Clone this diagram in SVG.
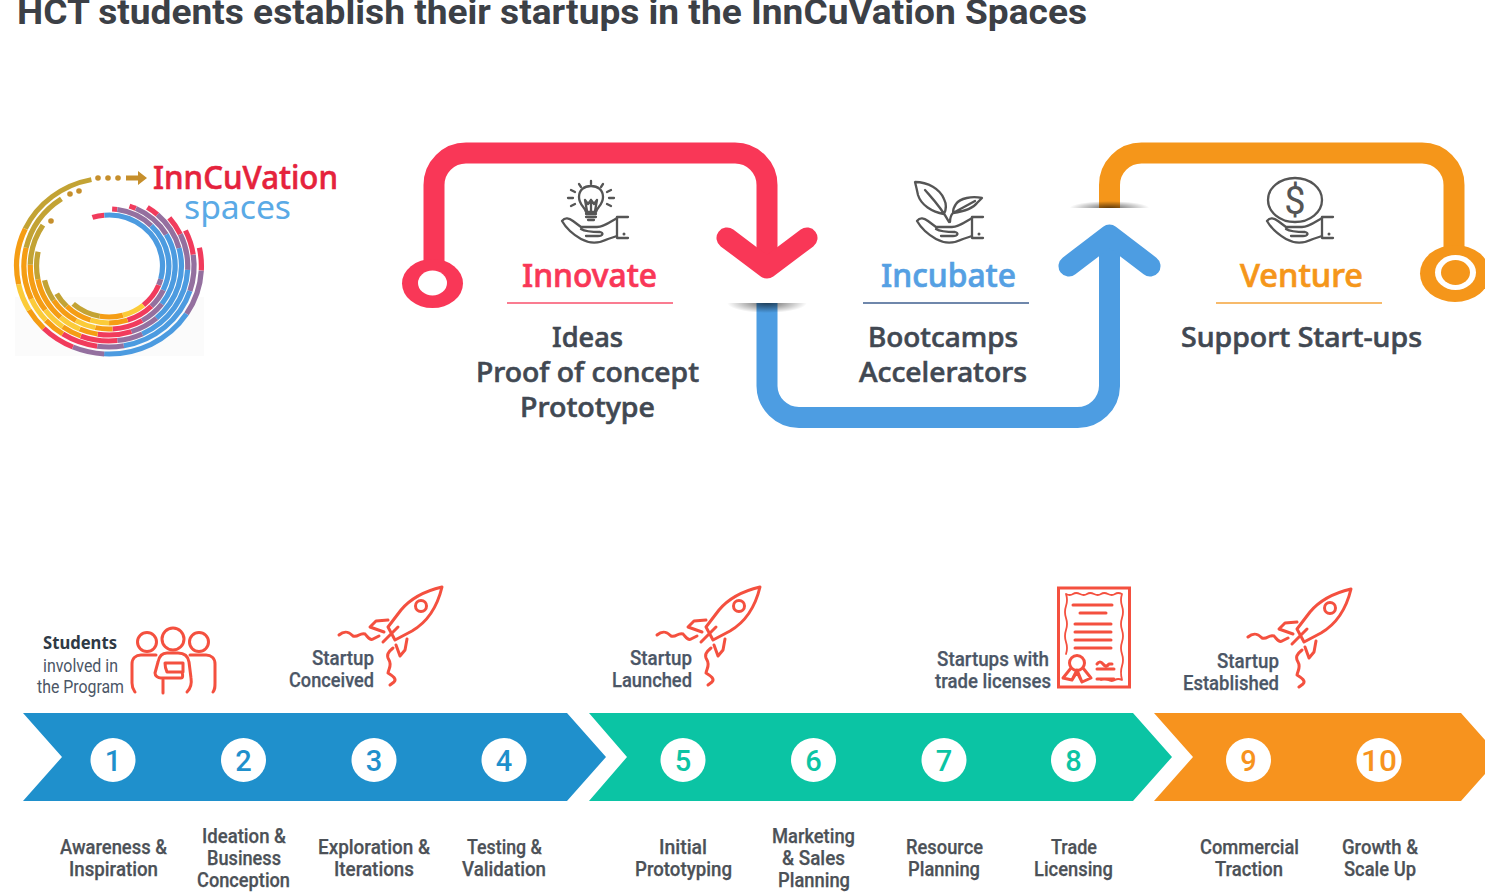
<svg xmlns="http://www.w3.org/2000/svg" xmlns:xlink="http://www.w3.org/1999/xlink" width="1485" height="893" viewBox="0 0 1485 893">
<style>
text{font-family:Roboto,"Liberation Sans",sans-serif}
.h{font-family:"Noto Sans","Liberation Sans",sans-serif;font-size:33px;font-weight:500;stroke-width:.7}
.d{font-family:"Noto Sans","Liberation Sans",sans-serif;font-size:27px;font-weight:500;fill:#414852;stroke:#414852;stroke-width:.6}
.l{font-size:21px;font-weight:500;fill:#4c5157;stroke:#4c5157;stroke-width:.25}
.u{font-size:21px;font-weight:500;fill:#4b5666;stroke:#4b5666;stroke-width:.25}
.n{font-size:29px;font-weight:500;text-anchor:middle}
.ic{fill:none;stroke:#555;stroke-width:2.300;stroke-linecap:round;stroke-linejoin:round}
.rd{fill:none;stroke:#f4503f;stroke-width:3;stroke-linecap:round;stroke-linejoin:round}
.pipe{fill:none;stroke-width:21;stroke-linecap:butt;stroke-linejoin:round}
.head{fill:none;stroke-width:21;stroke-linecap:round;stroke-linejoin:round}
.ring circle{fill:none;stroke-width:5}
.b{stroke:#4c9be0}.p{stroke:#94709f}.r{stroke:#f13b5c}.o{stroke:#f59d14}.y{stroke:#fbcb39}.g{stroke:#c3a334}
</style>
<defs>
<radialGradient id="shDown" gradientUnits="userSpaceOnUse" cx="0" cy="0" r="1" gradientTransform="translate(767 303) scale(40 10)"><stop offset="0" stop-color="#000" stop-opacity=".6"/><stop offset="1" stop-color="#000" stop-opacity="0"/></radialGradient>
<radialGradient id="shUp" gradientUnits="userSpaceOnUse" cx="0" cy="0" r="1" gradientTransform="translate(1109.500 208) scale(40 7)"><stop offset="0" stop-color="#000" stop-opacity=".6"/><stop offset="1" stop-color="#000" stop-opacity="0"/></radialGradient>
<g id="hand">
<path class="ic" d="M562 221C565 217 569 218 573 221L581 227H597C604 227 610 222 617 218M562 221C566 228 574 235 581 239C590 244 600 243 608 239L617 236M581 229C586 232 594 232 600 232C604 233 603 236 598 236H586"/>
<path class="ic" d="M628 217H617V238H628"/><circle cx="624" cy="234" r="1.500" fill="#555"/>
</g>
<g id="rocket">
<path class="rd" d="M442 587C425 591 411 598 401 610L388 627L395 640L412 631C424 624 436 612 442 587Z"/>
<circle class="rd" cx="421" cy="606" r="5.500"/>
<path class="rd" d="M388 620L376 621L370 627L384 632M407 639L405 650L400 656L396 645M383 642L398 627"/>
<path class="rd" d="M339 635C345 630 349 632 353 636C358 638 360 632 365 634C368 637 370 641 373 639L379 636M393 648C388 652 386 655 389 660C392 665 389 668 388 673C393 676 397 679 394 682L390 685"/>
</g>
</defs>
<rect width="1485" height="893" fill="#fff"/>
<text id="title" x="17" y="24" font-size="35" font-weight="700" fill="#3c4046" textLength="1070" lengthAdjust="spacingAndGlyphs">HCT students establish their startups in the InnCuVation Spaces</text>

<g id="logo">
<rect x="15" y="297" width="189" height="59" fill="#fbfbfb"/>
<g class="ring" transform="translate(109 266) scale(1.05 1)">
<circle r="88" pathLength="360" class="r" stroke-dasharray="15 999" transform="rotate(-12)"/><circle r="88" pathLength="360" class="p" stroke-dasharray="30 999" transform="rotate(3)"/><circle r="88" pathLength="360" class="b" stroke-dasharray="60 999" transform="rotate(33)"/><circle r="88" pathLength="360" class="p" stroke-dasharray="20 999" transform="rotate(93)"/><circle r="88" pathLength="360" class="r" stroke-dasharray="22 999" transform="rotate(113)"/><circle r="88" pathLength="360" class="o" stroke-dasharray="15 999" transform="rotate(135)"/><circle r="88" pathLength="360" class="y" stroke-dasharray="18 999" transform="rotate(150)"/><circle r="88" pathLength="360" class="o" stroke-dasharray="37 999" transform="rotate(168)"/><circle r="88" pathLength="360" class="g" stroke-dasharray="54 999" transform="rotate(205)"/>
<circle r="81" pathLength="360" class="r" stroke-dasharray="18 999" transform="rotate(-26)"/><circle r="81" pathLength="360" class="p" stroke-dasharray="26 999" transform="rotate(-8)"/><circle r="81" pathLength="360" class="b" stroke-dasharray="62 999" transform="rotate(18)"/><circle r="81" pathLength="360" class="p" stroke-dasharray="18 999" transform="rotate(80)"/><circle r="81" pathLength="360" class="r" stroke-dasharray="25 999" transform="rotate(98)"/><circle r="81" pathLength="360" class="o" stroke-dasharray="15 999" transform="rotate(123)"/><circle r="81" pathLength="360" class="y" stroke-dasharray="18 999" transform="rotate(138)"/><circle r="81" pathLength="360" class="o" stroke-dasharray="37 999" transform="rotate(156)"/><circle r="81" pathLength="360" class="g" stroke-dasharray="43 999" transform="rotate(193)"/>
<circle r="75" pathLength="360" class="r" stroke-dasharray="15 999" transform="rotate(-40)"/><circle r="75" pathLength="360" class="p" stroke-dasharray="28 999" transform="rotate(-25)"/><circle r="75" pathLength="360" class="b" stroke-dasharray="62 999" transform="rotate(3)"/><circle r="75" pathLength="360" class="p" stroke-dasharray="19 999" transform="rotate(65)"/><circle r="75" pathLength="360" class="r" stroke-dasharray="27 999" transform="rotate(84)"/><circle r="75" pathLength="360" class="o" stroke-dasharray="15 999" transform="rotate(111)"/><circle r="75" pathLength="360" class="y" stroke-dasharray="18 999" transform="rotate(126)"/><circle r="75" pathLength="360" class="o" stroke-dasharray="37 999" transform="rotate(144)"/><circle r="75" pathLength="360" class="g" stroke-dasharray="32 999" transform="rotate(181)"/>
<circle r="69" pathLength="360" class="r" stroke-dasharray="10 999" transform="rotate(-58)"/><circle r="69" pathLength="360" class="p" stroke-dasharray="33 999" transform="rotate(-48)"/><circle r="69" pathLength="360" class="b" stroke-dasharray="64 999" transform="rotate(-15)"/><circle r="69" pathLength="360" class="p" stroke-dasharray="23 999" transform="rotate(49)"/><circle r="69" pathLength="360" class="r" stroke-dasharray="27 999" transform="rotate(72)"/><circle r="69" pathLength="360" class="o" stroke-dasharray="15 999" transform="rotate(99)"/><circle r="69" pathLength="360" class="y" stroke-dasharray="18 999" transform="rotate(114)"/><circle r="69" pathLength="360" class="o" stroke-dasharray="37 999" transform="rotate(132)"/><circle r="69" pathLength="360" class="g" stroke-dasharray="23 999" transform="rotate(169)"/>
<circle r="63" pathLength="360" class="r" stroke-dasharray="6 999" transform="rotate(-72)"/><circle r="63" pathLength="360" class="p" stroke-dasharray="36 999" transform="rotate(-66)"/><circle r="63" pathLength="360" class="b" stroke-dasharray="67 999" transform="rotate(-30)"/><circle r="63" pathLength="360" class="p" stroke-dasharray="23 999" transform="rotate(37)"/><circle r="63" pathLength="360" class="r" stroke-dasharray="27 999" transform="rotate(60)"/><circle r="63" pathLength="360" class="o" stroke-dasharray="15 999" transform="rotate(87)"/><circle r="63" pathLength="360" class="y" stroke-dasharray="18 999" transform="rotate(102)"/><circle r="63" pathLength="360" class="o" stroke-dasharray="27 999" transform="rotate(120)"/><circle r="63" pathLength="360" class="g" stroke-dasharray="20 999" transform="rotate(147)"/>
<circle r="57" pathLength="360" class="r" stroke-dasharray="5 999" transform="rotate(-87)"/><circle r="57" pathLength="360" class="p" stroke-dasharray="37 999" transform="rotate(-82)"/><circle r="57" pathLength="360" class="b" stroke-dasharray="70 999" transform="rotate(-45)"/><circle r="57" pathLength="360" class="p" stroke-dasharray="20 999" transform="rotate(25)"/><circle r="57" pathLength="360" class="r" stroke-dasharray="27 999" transform="rotate(45)"/><circle r="57" pathLength="360" class="o" stroke-dasharray="18 999" transform="rotate(72)"/><circle r="57" pathLength="360" class="y" stroke-dasharray="18 999" transform="rotate(90)"/><circle r="57" pathLength="360" class="o" stroke-dasharray="27 999" transform="rotate(108)"/><circle r="57" pathLength="360" class="g" stroke-dasharray="16 999" transform="rotate(135)"/>
<circle r="51" pathLength="360" class="r" stroke-width="2.500" stroke-dasharray="13 999" transform="rotate(-108)"/><circle r="51" pathLength="360" class="b" stroke-dasharray="110 999" transform="rotate(-95)"/><circle r="51" pathLength="360" class="p" stroke-dasharray="7 999" transform="rotate(15)"/><circle r="51" pathLength="360" class="r" stroke-dasharray="28 999" transform="rotate(22)"/><circle r="51" pathLength="360" class="y" stroke-dasharray="25 999" transform="rotate(50)"/><circle r="51" pathLength="360" class="o" stroke-dasharray="25 999" transform="rotate(75)"/><circle r="51" pathLength="360" class="g" stroke-dasharray="32 999" transform="rotate(100)"/>
</g>
<g fill="#c68f2c">
<circle cx="98" cy="178" r="2.800"/><circle cx="108" cy="178" r="2.800"/><circle cx="118" cy="178" r="2.800"/>
<circle cx="70" cy="194" r="2.800"/><circle cx="79" cy="191" r="2.800"/><circle cx="51" cy="221" r="2.800"/>
<path d="M126 175.500H138V171L147 178L138 185V180.500H126Z"/>
</g>
<text x="153" y="189" font-size="33" font-weight="500" fill="#e5223c" stroke="#e5223c" stroke-width=".6" style="font-family:'Noto Sans',sans-serif" textLength="185" lengthAdjust="spacingAndGlyphs">InnCuVation</text>
<text x="184" y="219" font-size="33" fill="#5aaae6" style="font-family:'Noto Sans',sans-serif" textLength="107" lengthAdjust="spacingAndGlyphs">spaces</text>
</g>

<g id="connectors">
<path class="pipe" stroke="#f93757" d="M434 265V185A32 32 0 0 1 466 153H735A32 32 0 0 1 767 185V268"/>
<path class="head" stroke="#f93757" d="M727 238L767 268L807 238"/>
<ellipse cx="432.500" cy="283.500" rx="30.500" ry="24.500" fill="#f93757"/><ellipse cx="432.500" cy="283" rx="14.500" ry="12.500" fill="#fff"/>
<path class="pipe" stroke="#4d9de2" d="M767 303V386A32 32 0 0 0 799 417.500H1077A32 32 0 0 0 1109.500 386V235"/>
<path class="head" stroke="#4d9de2" d="M1069 266L1109.500 235L1150 266"/>
<path d="M727 303A40 10 0 0 0 807 303Z" fill="url(#shDown)"/>
<path class="pipe" stroke="#f5961a" d="M1109.500 208V185A32 32 0 0 1 1141.500 153H1422A32 32 0 0 1 1454 185V250"/>
<path d="M1069.500 208A40 7 0 0 1 1149.500 208Z" fill="url(#shUp)"/>
<ellipse cx="1455" cy="273.500" rx="35" ry="28.500" fill="#f5961a"/><ellipse cx="1455.500" cy="272.500" rx="20.500" ry="17.500" fill="#fff"/><ellipse cx="1455.500" cy="272.500" rx="14.500" ry="12.500" fill="#f5961a"/>
</g>

<g id="innovate">
<use href="#hand"/>
<g class="ic"><path d="M586 212C585 207 579 205 579 197C579 190 584 186 591 186C598 186 603 190 603 197C603 205 597 207 596 212ZM586 214H596M586 217H596M588 220H594M587 211L585 200M595 211L597 200M591 211V200M585 200L588 204L591 200L594 204L597 200"/>
<path d="M591 181V184M579 184L581 187M603 184L601 187M571 190L575 192M611 190L607 192M568 198H573M609 198H614M571 206L575 204M611 206L607 204"/></g>
<text class="h" x="522" y="287" fill="#f93757" stroke="#f93757" textLength="135" lengthAdjust="spacingAndGlyphs">Innovate</text>
<line x1="507" y1="303" x2="673" y2="303" stroke="#f8506c" stroke-width="1.500"/>
<text class="d" x="552" y="347" textLength="71" lengthAdjust="spacingAndGlyphs">Ideas</text>
<text class="d" x="476" y="382" textLength="223" lengthAdjust="spacingAndGlyphs">Proof of concept</text>
<text class="d" x="520" y="417" textLength="135" lengthAdjust="spacingAndGlyphs">Prototype</text>
</g>

<g id="incubate">
<use href="#hand" x="355"/>
<g class="ic"><path d="M915 182C928 182 940 189 944 199C947 205 946 210 944 214C932 212 921 205 918 195C917 190 916 186 915 182ZM925 190C932 198 941 207 949 222M953 213C960 212 972 210 977 203L982 198C972 196 960 198 956 204C953 208 953 210 953 213ZM953 213L975 201M950 222C950 218 951 215 953 213"/></g>
<text class="h" x="881" y="287" fill="#55a0e3" stroke="#55a0e3" textLength="135" lengthAdjust="spacingAndGlyphs">Incubate</text>
<line x1="863" y1="303" x2="1029" y2="303" stroke="#3f5f8f" stroke-width="1.500"/>
<text class="d" x="868" y="347" textLength="150" lengthAdjust="spacingAndGlyphs">Bootcamps</text>
<text class="d" x="859" y="382" textLength="168" lengthAdjust="spacingAndGlyphs">Accelerators</text>
</g>

<g id="venture">
<use href="#hand" x="705"/>
<ellipse class="ic" cx="1295" cy="200" rx="27" ry="22"/>
<text x="1295" y="214" font-size="38" font-weight="400" fill="#555" text-anchor="middle">$</text>
<text class="h" x="1240" y="287" fill="#f5961a" stroke="#f5961a" textLength="123" lengthAdjust="spacingAndGlyphs">Venture</text>
<line x1="1216" y1="303" x2="1382" y2="303" stroke="#f5a33a" stroke-width="1.500"/>
<text class="d" x="1181" y="347" textLength="241" lengthAdjust="spacingAndGlyphs">Support Start-ups</text>
</g>

<g id="students">
<circle class="rd" cx="147" cy="642" r="9.500"/><circle class="rd" cx="173" cy="639" r="11"/><circle class="rd" cx="199" cy="642" r="9.500"/>
<path class="rd" d="M135 692C133 689 132 688 132 683V664C132 658 136 655 141 655H156M213 692C215 689 215 688 215 683V664C215 658 211 655 206 655H190M163 680V693M187 692C191 688 192 684 191 678L189 662C188 656 184 653 178 653H167C162 653 159 657 158 662L155 673C155 676 158 678 161 678H181C183 678 183 675 182 672H167C165 668 165 666 165 663H183V672"/>
<text x="43" y="649" font-size="17" font-weight="700" fill="#2f3a45" style="font-family:'Noto Sans',sans-serif" textLength="74" lengthAdjust="spacingAndGlyphs">Students</text>
<text x="43" y="672" font-size="18" fill="#4b5666" textLength="75" lengthAdjust="spacingAndGlyphs">involved in</text>
<text x="37" y="693" font-size="18" fill="#4b5666" textLength="87" lengthAdjust="spacingAndGlyphs">the Program</text>
</g>

<g id="conceived">
<use href="#rocket"/>
<text class="u" x="312" y="665" textLength="62" lengthAdjust="spacingAndGlyphs">Startup</text>
<text class="u" x="289" y="687" textLength="85" lengthAdjust="spacingAndGlyphs">Conceived</text>
</g>
<g id="launched">
<use href="#rocket" x="318"/>
<text class="u" x="630" y="665" textLength="62" lengthAdjust="spacingAndGlyphs">Startup</text>
<text class="u" x="612" y="687" textLength="80" lengthAdjust="spacingAndGlyphs">Launched</text>
</g>
<g id="licenses">
<rect x="1058.500" y="588" width="71" height="99" fill="none" stroke="#f4503f" stroke-width="3"/>
<path class="rd" d="M1066 594Q1070 596 1073 594T1080 594T1087 594T1094 594T1101 594T1108 594T1115 594T1122 594Q1120 600 1122 606T1122 618T1122 630T1122 642T1122 654T1122 666T1122 680Q1118 678 1115 680T1108 680T1101 680M1066 594Q1068 600 1066 606T1066 618T1066 630T1066 642T1066 654" stroke-width="1.800" style="stroke-width:1.800"/>
<path class="rd" d="M1073 605H1112M1080 613H1106M1075 624H1111M1075 632H1111M1075 640H1111M1075 648H1111M1097 669H1114M1097 679H1114M1097 664Q1100 660 1103 664T1109 664L1112 664"/>
<circle class="rd" cx="1077" cy="663" r="7.500"/>
<path class="rd" d="M1071 668L1063 678L1072 680L1077 670L1082 682L1091 678L1083 668M1077 672L1072 680M1077 672L1082 682"/>
<text class="u" x="937" y="666" textLength="112" lengthAdjust="spacingAndGlyphs">Startups with</text>
<text class="u" x="935" y="688" textLength="116" lengthAdjust="spacingAndGlyphs">trade licenses</text>
</g>
<g id="established">
<use href="#rocket" x="909" y="2"/>
<text class="u" x="1217" y="668" textLength="62" lengthAdjust="spacingAndGlyphs">Startup</text>
<text class="u" x="1183" y="690" textLength="96" lengthAdjust="spacingAndGlyphs">Established</text>
</g>

<g id="ribbon">
<path d="M23 713H567L606 757L567 801H23L62 757Z" fill="#1f90cc"/>
<path d="M589 713H1133L1172 757L1133 801H589L627 757Z" fill="#0bc4a4"/>
<path d="M1154 713H1461L1500 757L1461 801H1154L1193 757Z" fill="#f7931e"/>
</g>

<g id="step1"><ellipse cx="113" cy="760" rx="22.500" ry="22" fill="#fff"/><text class="n" x="113" y="770.500" fill="#1f90cc">1</text><text class="l" x="60" y="854" textLength="107" lengthAdjust="spacingAndGlyphs">Awareness &amp;</text><text class="l" x="69" y="876" textLength="89" lengthAdjust="spacingAndGlyphs">Inspiration</text></g>
<g id="step2"><ellipse cx="243.500" cy="760" rx="22.500" ry="22" fill="#fff"/><text class="n" x="243.500" y="770.500" fill="#1f90cc">2</text><text class="l" x="202" y="843" textLength="84" lengthAdjust="spacingAndGlyphs">Ideation &amp;</text><text class="l" x="207" y="865" textLength="74" lengthAdjust="spacingAndGlyphs">Business</text><text class="l" x="197" y="887" textLength="93" lengthAdjust="spacingAndGlyphs">Conception</text></g>
<g id="step3"><ellipse cx="374" cy="760" rx="22.500" ry="22" fill="#fff"/><text class="n" x="374" y="770.500" fill="#1f90cc">3</text><text class="l" x="318" y="854" textLength="112" lengthAdjust="spacingAndGlyphs">Exploration &amp;</text><text class="l" x="334" y="876" textLength="80" lengthAdjust="spacingAndGlyphs">Iterations</text></g>
<g id="step4"><ellipse cx="504" cy="760" rx="22.500" ry="22" fill="#fff"/><text class="n" x="504" y="770.500" fill="#1f90cc">4</text><text class="l" x="467" y="854" textLength="75" lengthAdjust="spacingAndGlyphs">Testing &amp;</text><text class="l" x="462" y="876" textLength="84" lengthAdjust="spacingAndGlyphs">Validation</text></g>
<g id="step5"><ellipse cx="683" cy="760" rx="22.500" ry="22" fill="#fff"/><text class="n" x="683" y="770.500" fill="#0bc4a4">5</text><text class="l" x="659" y="854" textLength="48" lengthAdjust="spacingAndGlyphs">Initial</text><text class="l" x="635" y="876" textLength="97" lengthAdjust="spacingAndGlyphs">Prototyping</text></g>
<g id="step6"><ellipse cx="813.500" cy="760" rx="22.500" ry="22" fill="#fff"/><text class="n" x="813.500" y="770.500" fill="#0bc4a4">6</text><text class="l" x="772" y="843" textLength="83" lengthAdjust="spacingAndGlyphs">Marketing</text><text class="l" x="782" y="865" textLength="63" lengthAdjust="spacingAndGlyphs">&amp; Sales</text><text class="l" x="778" y="887" textLength="72" lengthAdjust="spacingAndGlyphs">Planning</text></g>
<g id="step7"><ellipse cx="944" cy="760" rx="22.500" ry="22" fill="#fff"/><text class="n" x="944" y="770.500" fill="#0bc4a4">7</text><text class="l" x="906" y="854" textLength="77" lengthAdjust="spacingAndGlyphs">Resource</text><text class="l" x="908" y="876" textLength="72" lengthAdjust="spacingAndGlyphs">Planning</text></g>
<g id="step8"><ellipse cx="1073.500" cy="760" rx="22.500" ry="22" fill="#fff"/><text class="n" x="1073.500" y="770.500" fill="#0bc4a4">8</text><text class="l" x="1051" y="854" textLength="46" lengthAdjust="spacingAndGlyphs">Trade</text><text class="l" x="1034" y="876" textLength="79" lengthAdjust="spacingAndGlyphs">Licensing</text></g>
<g id="step9"><ellipse cx="1248.500" cy="760" rx="22.500" ry="22" fill="#fff"/><text class="n" x="1248.500" y="770.500" fill="#f7931e">9</text><text class="l" x="1200" y="854" textLength="99" lengthAdjust="spacingAndGlyphs">Commercial</text><text class="l" x="1215" y="876" textLength="68" lengthAdjust="spacingAndGlyphs">Traction</text></g>
<g id="step10"><ellipse cx="1379" cy="760" rx="22.500" ry="22" fill="#fff"/><text class="n" x="1379" y="770.500" fill="#f7931e" textLength="36" lengthAdjust="spacingAndGlyphs">10</text><text class="l" x="1342" y="854" textLength="76" lengthAdjust="spacingAndGlyphs">Growth &amp;</text><text class="l" x="1344" y="876" textLength="72" lengthAdjust="spacingAndGlyphs">Scale Up</text></g>
</svg>
